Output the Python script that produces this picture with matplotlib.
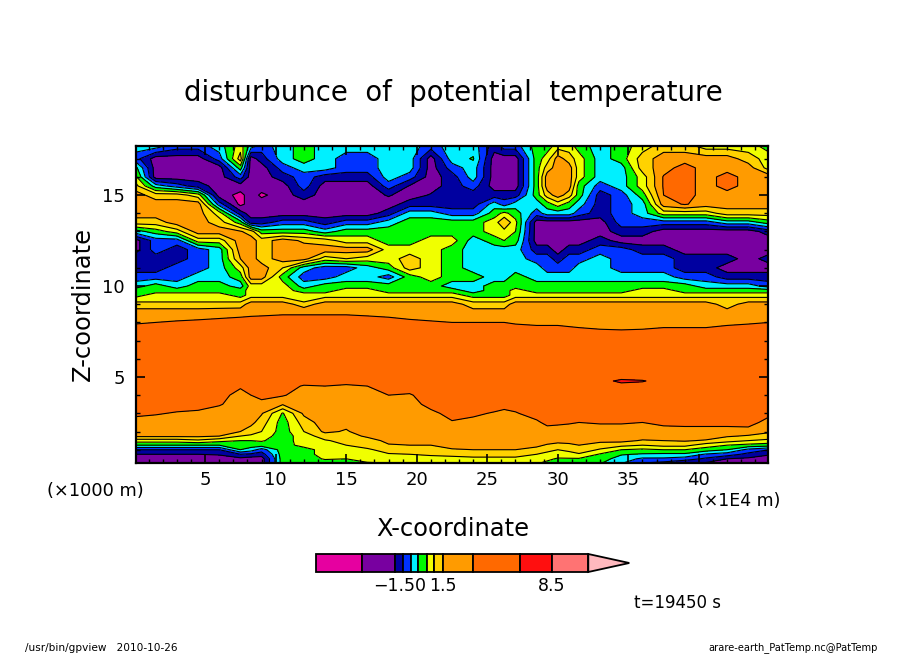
import numpy as np
import matplotlib
matplotlib.use('Agg')
import matplotlib.pyplot as plt
from matplotlib.colors import ListedColormap, BoundaryNorm
from matplotlib.patches import Polygon

# x in units of 1E4 m / z in 1000 m, values are the colour band number
x = [0, 1.5, 3, 4.5, 6, 7.5, 8.25, 9, 10.5, 12, 13.5, 15, 16.5, 18, 19.5, 21, 22.5, 24, 25.5, 26.2,
     27, 28.5, 29.25, 30, 30.8, 31.5, 33, 34.5, 36, 37.5, 39, 40.5, 42, 43.5, 45]

z_upper = [17.7, 17, 16.5, 16, 15.5, 15, 14.5, 14, 13.5, 13, 12.5, 12, 11.5, 11, 10.5, 10, 9.75, 9.5, 9.25, 9]
theta_upper = [
    [4, 3, 5, 6, 7, 8, 8, 8, 7, 4, 1, 1, 2, 2, 3, 4, 5, 5, 6, 7],
    [4, 1, 1, 1, 4, 7, 8, 8, 7, 5, 3, 3, 2, 2, 3, 5, 5, 6, 6, 7],
    [3, 1, 1, 1, 3, 7, 8, 8, 8, 6, 3, 2, 2, 3, 3, 4, 5, 6, 6, 7],
    [3, 1, 1, 1, 2, 6, 8, 8, 8, 8, 6, 3, 3, 3, 4, 5, 5, 6, 6, 7],
    [4, 3, 1, 1, 1, 1, 3, 6, 7, 8, 6, 4, 4, 4, 4, 5, 5, 6, 6, 7],
    [6, 7, 5, 3, 1, 0.2, 0.2, 2, 5, 7.6, 8, 8, 7.5, 6, 5, 4, 5, 5, 6, 7],
    [4, 1, 1, 1, 1, 1, 1, 1, 2, 7, 8, 8, 8, 8, 8, 6, 6, 6, 7, 8],
    [3, 2, 1, 1, 1, 0.3, 1, 1, 2, 5, 7, 7, 7, 8, 8, 6, 6, 6, 7, 8],
    [4, 4, 3, 2, 1, 1, 1, 1, 3, 5, 8, 8, 8, 6.5, 5, 6, 6, 6, 7, 8],
    [5, 5, 4, 3, 3, 2, 1, 1, 3, 5, 7.3, 8, 7.9, 4, 3, 4, 5, 6, 6, 7],
    [4, 4, 4, 2, 1, 1, 1, 1, 2, 4, 7, 8, 6, 3, 3, 5, 5, 6, 7, 8],
    [4, 3, 3, 2, 1, 1, 1, 1, 3, 5, 6, 8, 6.5, 3, 4, 5, 6, 6, 7, 8],
    [4, 3, 3, 2, 1, 1, 1, 1, 3, 5, 6, 8, 6, 4, 4, 5, 6, 6, 7, 8],
    [4, 4, 4, 4, 3, 1.6, 1, 2, 4, 5, 5, 6, 6, 5, 3, 5, 5, 6, 7, 8],
    [4, 4, 4, 3, 1.4, 1, 2, 4, 5, 5, 5, 6, 7, 7, 5, 5, 5, 6, 7, 8],
    [3, 1, 1, 1, 1, 1.6, 2, 4, 5, 5, 6, 6, 6, 6, 6, 5, 5, 6, 7, 8],
    [4, 4, 3, 2, 2, 2, 2, 3, 5, 5, 6, 5, 5, 5, 5, 4, 5, 6, 7, 8],
    [4, 4.6, 4, 4, 3, 2, 2, 3, 5, 5, 4, 4, 4, 4, 5, 4, 4, 5, 6, 7],
    [2, 1, 1, 1, 1, 2, 4, 5, 6, 6, 5, 4, 4, 4, 4, 5, 5, 5, 6, 7],
    [3, 1, 1, 1, 1, 2, 3, 5.8, 7.4, 6.2, 5.5, 4, 4, 4, 4, 5, 5, 5, 6, 7],
    [3, 1, 1, 1, 1, 2, 4, 5, 5.8, 5.5, 5, 4, 4, 4, 5, 5, 6, 6, 7, 8],
    [5, 5, 5, 5, 5, 5, 4, 3, 1, 1, 1, 2, 3, 4, 4, 5, 5, 6, 7, 8],
    [5, 6, 7, 8, 8, 7, 5, 4, 1, 1, 1, 2, 3, 3, 4, 5, 5, 6, 7, 8],
    [6, 8, 8, 8, 8, 8, 6, 4, 1, 1, 1, 1, 2, 3, 4, 5, 5, 6, 7, 8],
    [6, 7, 8, 8, 8, 7, 5, 4, 1, 1, 1, 2, 3, 3, 4, 5, 5, 6, 7, 8],
    [5, 6, 6, 6, 5, 5, 4, 3, 1, 1, 1, 2, 3, 4, 4, 5, 5, 6, 7, 8],
    [4, 4, 4, 4, 3, 2, 2, 2, 1, 1, 2, 3, 4, 4, 4, 5, 5, 6, 7, 8],
    [5, 5, 4, 4, 4, 3, 3, 3, 3, 2, 1, 3, 3, 3, 4, 5, 5, 6, 7, 8],
    [6, 7, 7, 6, 6, 5, 4, 4, 3, 2, 1, 2, 3, 3, 4, 5, 6, 6, 7, 8],
    [7, 8, 8, 8.6, 8.6, 8.5, 8, 6, 3, 1, 1, 2, 3, 3, 4, 5, 6, 6, 7, 8],
    [7, 8, 9, 9, 9, 9, 8.6, 6, 3, 1, 1, 1, 2, 2, 3, 5, 5, 6, 7, 8],
    [6, 8, 8, 8, 8, 8, 8, 6, 3, 1, 1, 1, 2, 2, 3, 4, 5, 6, 7, 8],
    [6, 8, 8, 9, 9, 8, 8, 7, 4, 1, 1, 1, 2, 1, 2, 4, 5, 6, 7, 7],
    [6, 7, 8, 8, 8, 8, 8, 7, 4, 1, 1, 1, 1, 1, 2, 4, 5, 6, 7, 8],
    [5, 6, 6, 8, 8, 8, 8, 7, 5, 2, 1, 1, 2, 1, 2, 3, 5, 6, 7, 8],
]

# the flat middle of the section
theta_z85 = [8, 8, 8, 8, 8.1, 8.2, 8.25, 8.3, 8.4, 8.4, 8.4, 8.4, 8.3, 8.2, 8.1, 8, 8, 8, 8, 8, 8, 8, 8, 8, 8,
             8, 8, 8, 8, 8, 8, 8, 8, 8, 8]
theta_z80 = [8.45, 8.5, 8.6, 8.7, 8.8, 8.9, 9, 9, 9, 9, 9, 9, 9, 8.9, 8.7, 8.6, 8.5, 8.5, 8.5, 8.5,
             8.45, 8.4, 8.4, 8.4, 8.35, 8.3, 8.2, 8.15, 8.2, 8.3, 8.3, 8.3, 8.4, 8.45, 8.5]
theta_z70 = [9] * 35
theta_z60 = [9] * 35
theta_z478 = [9] * 27 + [9.8, 9.6] + [9] * 6

z_lower = [5, 4.5, 4, 3.5, 3, 2.5, 2, 1.75, 1.5, 1.25, 1, 0.75, 0.5, 0.27]
theta_lower = [
    [9, 9, 9, 9, 8.8, 8, 8, 7.7, 6, 4.5, 2.5, 1.5, 1, 1],
    [9, 9, 9, 9, 8.6, 8, 8, 7.7, 6, 4.5, 2.5, 1.5, 1, 1],
    [9, 9, 9, 9, 8.4, 8, 8, 7.7, 6, 4.5, 2.5, 1.5, 1, 1],
    [9, 9, 9, 8.9, 8.3, 8, 8, 7.7, 6.3, 4.5, 2.5, 1.5, 1, 1],
    [9, 9, 9, 8.6, 8, 8, 8, 7.5, 5.8, 4.5, 2.5, 1.6, 1, 1],
    [9, 8.7, 8, 8, 8, 8, 7.5, 6.5, 5.5, 5, 4.5, 2.5, 1.2, 1],
    [9, 9, 8.5, 8, 8, 7.8, 7, 6.3, 5.5, 5, 4, 2.3, 1, 1],
    [9, 9, 8.9, 8.1, 7.6, 7, 6.5, 6, 5.6, 5, 3, 2, 1, 1],
    [9, 9, 8.6, 7.6, 5.4, 5, 5, 5, 5, 5, 5, 5, 5, 5],
    [9, 8.4, 8, 8, 7.7, 7, 6.5, 6, 6, 5.9, 5, 5, 5, 5],
    [8.9, 8.5, 8, 8, 8, 8, 7.7, 7, 6.4, 6, 6, 6, 5.6, 5],
    [8.9, 8.3, 8, 8, 8, 7.8, 7.4, 7, 6.8, 6.5, 6, 6, 5.5, 5],
    [8.9, 8.5, 8, 8, 8, 8, 8, 7.7, 7, 7, 6.3, 6, 6, 5.4],
    [9, 9, 8.5, 8, 8, 8, 8, 8, 7.8, 7.4, 7, 6.4, 6, 5.5],
    [9, 9, 8.4, 8, 8, 8, 8, 8, 7.9, 7.5, 7, 6.5, 6, 5.6],
    [9, 9, 9, 8.9, 8.2, 8, 8, 8, 7.9, 7.5, 7, 6.7, 6, 6],
    [9, 9, 9, 9, 8.9, 8.4, 8, 8, 8, 7.9, 7.4, 6.9, 6, 6],
    [9, 9, 9, 9, 8.7, 8.2, 8, 8, 8, 7.9, 7.5, 7, 6.2, 6],
    [9, 9, 9, 9, 8.4, 8, 8, 8, 8, 7.9, 7.5, 7, 6.2, 6],
    [9, 9, 9, 8.9, 8.2, 8, 8, 8, 8, 7.9, 7.5, 7, 6.2, 6],
    [9, 9, 9, 9, 8.4, 8, 8, 8, 8, 7.9, 7.5, 7, 6.2, 6],
    [9, 9, 9, 9, 9, 8.3, 8, 8, 8, 7.7, 7.2, 6.5, 6, 5.6],
    [9, 9, 9, 9, 9, 8.8, 8, 8, 7.9, 7.4, 6.8, 6.2, 5.7, 5.3],
    [9, 9, 9, 9, 9, 8.7, 8, 8, 7.8, 7.2, 6.5, 6, 5.4, 5],
    [9, 9, 9, 9, 9, 8.6, 8, 8, 7.85, 7.3, 6.7, 6.2, 5.4, 5],
    [9, 9, 9, 9, 9, 8.5, 8, 8, 7.9, 7.5, 7, 6.4, 5.4, 5],
    [9, 9, 9, 9, 9, 8.6, 8, 8, 7.8, 7, 6.4, 5.4, 5, 4.6],
    [9, 9, 9, 9, 9, 8.6, 8, 8, 7.8, 6.8, 5.5, 4.6, 4, 3.6],
    [9, 9, 9, 9, 9, 8.5, 8, 8, 7.4, 6.5, 5.3, 4.4, 3.3, 2.5],
    [9, 9, 9, 9, 9, 8.8, 8, 8, 7.5, 6.8, 5.5, 4.3, 3.3, 2.2],
    [9, 9, 9, 9, 9, 8.9, 8, 8, 7.6, 6.8, 5.5, 4.3, 3, 1.6],
    [9, 9, 9, 9, 9, 8.9, 8, 8, 7.4, 6, 5, 3.4, 2.3, 1.4],
    [9, 9, 9, 9, 9, 8.9, 8, 7.6, 6.9, 5.5, 4.5, 3, 1.5, 1],
    [9, 9, 9, 9, 9, 9, 8, 7.4, 6.5, 5.2, 3.2, 2.2, 1.3, 1],
    [9, 9, 9, 9, 8.8, 8, 7.6, 7.2, 6.2, 5, 2.5, 1.6, 1, 1],
]

band_colors = ['#e600a0', '#7800a0', '#0000a0', '#0032ff', '#00f0ff', '#00fa00', '#f0ff00',
               '#ffd200', '#ff9b00', '#ff6900', '#ff0f0f', '#ff7373', '#ffb9be']
cbar_widths = [46, 33, 7.7, 8, 7.3, 8.7, 7.3, 8.7, 30, 47.5, 31.7, 36.4]
cbar_labels = ['\u22121.50', '1.5', '8.5']
cbar_label_px = [400, 443, 552]

# stack everything into one z ascending table
upper = np.array(theta_upper, dtype=float)
lower = np.array(theta_lower, dtype=float)
middle = np.array([theta_z85, theta_z80, theta_z70, theta_z60], dtype=float).T
lens = np.array(theta_z478, dtype=float).reshape(-1, 1)
table = np.hstack([upper, middle, lower[:, :1], lens, lower[:, 1:]]).T
z = z_upper + [8.5, 8, 7, 6] + [5, 4.78] + z_lower[1:]
table = table[::-1]
z = np.array(z[::-1])

levels = np.arange(-0.5, 13.5, 1)
cmap = ListedColormap(band_colors)
norm = BoundaryNorm(levels, cmap.N)

W, H = 904, 654
fig = plt.figure(figsize=(W / 100, H / 100), dpi=100)
plt.rcParams['font.family'] = 'DejaVu Sans'

ax = fig.add_axes([136 / W, 1 - 463 / H, (768 - 136) / W, (463 - 146) / H])
ax.contourf(x, z, table, levels=levels, cmap=cmap, norm=norm)
ax.contour(x, z, table, levels=levels, colors='black', linewidths=0.8)
ax.set_xlim(0.1, 44.9)
ax.set_ylim(0.27, 17.7)

ax.set_xticks([5, 10, 15, 20, 25, 30, 35, 40])
ax.set_xticks(np.arange(1, 45), minor=True)
ax.set_yticks([5, 10, 15])
ax.set_yticks(np.arange(1, 18), minor=True)
ax.tick_params(which='major', direction='in', top=True, right=True, length=6.5, width=1.2,
               labelsize=13)
ax.tick_params(which='minor', direction='in', top=True, right=True, length=3, width=1)
ax.tick_params(axis='x', which='major', pad=6)
ax.tick_params(axis='y', which='major', pad=8)
for s in ax.spines.values():
    s.set_linewidth(1.6)


def px_text(px, py, s, **kw):
    kw.setdefault('ha', 'center')
    kw.setdefault('va', 'center')
    fig.text(px / W, 1 - py / H, s, **kw)


px_text(453, 93, 'disturbunce  of  potential  temperature', fontsize=19.8)
px_text(452.5, 529, 'X-coordinate', fontsize=17.4)
px_text(83, 304, 'Z-coordinate', fontsize=17.4, rotation=90)
px_text(95.5, 491, '(\u00d71000 m)', fontsize=12.8)
px_text(739, 501, '(\u00d71E4 m)', fontsize=12.5)
px_text(678, 603, 't=19450 s', fontsize=12)
px_text(101.5, 648, '/usr/bin/gpview   2010-10-26', fontsize=7.6)
px_text(793, 648, 'arare-earth_PatTemp.nc@PatTemp', fontsize=7.1)

# colour bar, drawn in pixel coordinates
cax = fig.add_axes([316 / W, 1 - 572 / H, (629 - 316) / W, 18 / H])
cax.set_xlim(316, 629)
cax.set_ylim(0, 1)
cax.axis('off')
left = 316.0
for w, c in zip(cbar_widths, band_colors):
    cax.barh(0.5, w, height=1, left=left, color=c, edgecolor='black', linewidth=1.3, clip_on=False)
    left += w
cax.add_patch(Polygon([(left, 0), (left, 1), (left + 41, 0.5)], closed=True, facecolor=band_colors[-1],
                      edgecolor='black', linewidth=1.3, clip_on=False))
for lab, lab_px in zip(cbar_labels, cbar_label_px):
    px_text(lab_px, 586, lab, fontsize=12.5)

fig.savefig('out.png', dpi=100)
